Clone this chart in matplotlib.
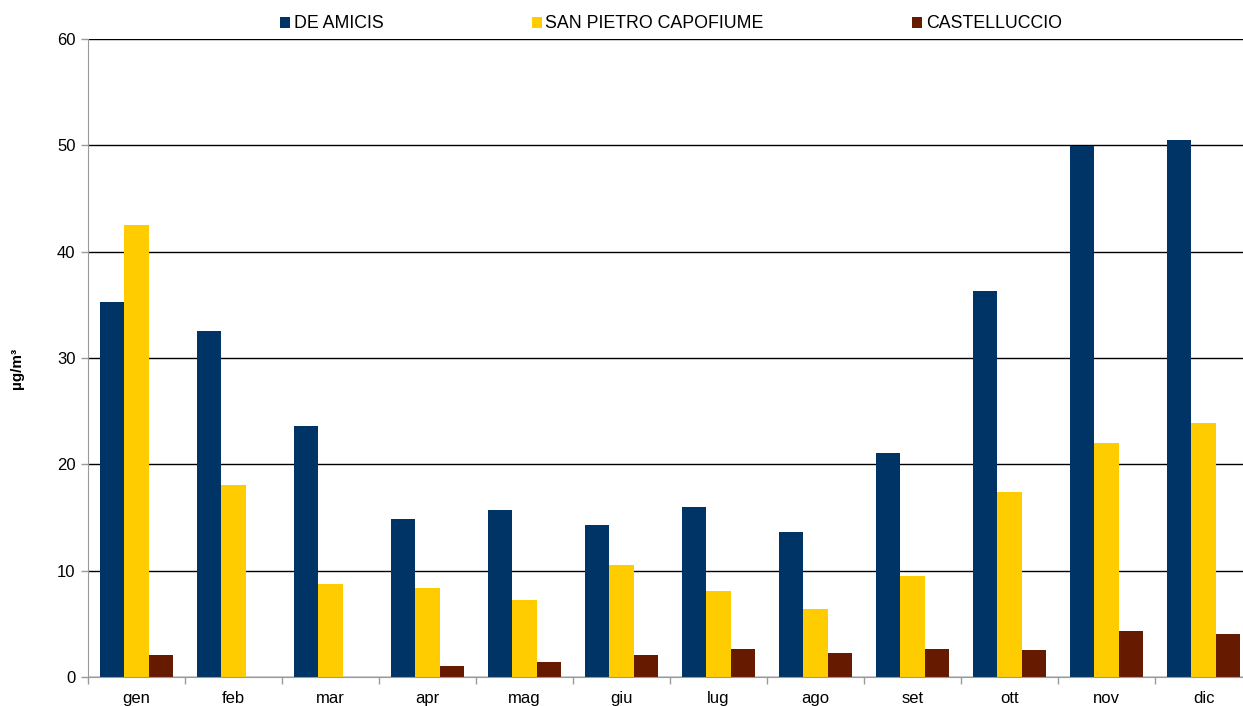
import matplotlib
matplotlib.use("Agg")
import matplotlib.pyplot as plt
import numpy as np
from matplotlib.patches import Patch

plt.rcParams['font.family'] = ['Liberation Sans', 'DejaVu Sans']

months = ["gen", "feb", "mar", "apr", "mag", "giu", "lug", "ago", "set", "ott", "nov", "dic"]
series_names = ["DE AMICIS", "SAN PIETRO CAPOFIUME", "CASTELLUCCIO"]
de_amicis = [35.3, 32.5, 23.6, 14.9, 15.7, 14.3, 16.0, 13.6, 21.1, 36.3, 49.9, 50.5]
san_pietro = [42.5, 18.1, 8.7, 8.4, 7.2, 10.5, 8.1, 6.4, 9.5, 17.4, 22.0, 23.9]
castelluccio = [2.1, 0.0, 0.0, 1.0, 1.4, 2.1, 2.6, 2.3, 2.6, 2.5, 4.3, 4.0]
colors = ["#003366", "#FFCC00", "#661A00"]
ylabel = "µg/m³"

fig = plt.figure(figsize=(12.43, 7.06), dpi=100)
ax = fig.add_axes([88/1243, 29/706, (12*97)/1243, (677-39)/706])

x = np.arange(len(months))
w = 0.252
for i, (vals, c) in enumerate(zip([de_amicis, san_pietro, castelluccio], colors)):
    ax.bar(x + (i - 1) * w, vals, width=w, color=c, zorder=3, linewidth=0)

ax.set_xlim(-0.5, len(months) - 0.5)
ax.set_ylim(0, 60)
ax.set_yticks(range(0, 61, 10))
ax.yaxis.grid(True, color="black", linewidth=1.0, zorder=0)
ax.set_axisbelow(True)

ax.set_xticks(x)
ax.set_xticklabels(months)
ax.set_xticks(np.arange(-0.5, len(months), 1), minor=True)
ax.tick_params(axis="x", which="major", length=0, pad=10, labelsize=12)
ax.tick_params(axis="x", which="minor", length=5, color="#999999", width=1)
ax.tick_params(axis="y", length=5, color="#999999", width=1, labelsize=12, pad=4)

for s in ["top", "right"]:
    ax.spines[s].set_visible(False)
ax.spines["left"].set_color("#999999")
ax.spines["bottom"].set_color("#999999")
ax.spines["bottom"].set_zorder(4)

fig.text(17/1243, 1 - 368/706, ylabel, rotation=90, ha="center", va="center",
         fontsize=11, fontweight="bold")

handles = [Patch(facecolor=c, edgecolor="none") for c in colors]
fig.legend(handles, series_names, loc="center", bbox_to_anchor=(671/1243, 1 - 24/706),
           ncol=3, frameon=False, fontsize=12.75, handlelength=0.55, handleheight=0.55,
           handletextpad=0.2, columnspacing=8.4)

fig.savefig("out.png", dpi=100)
